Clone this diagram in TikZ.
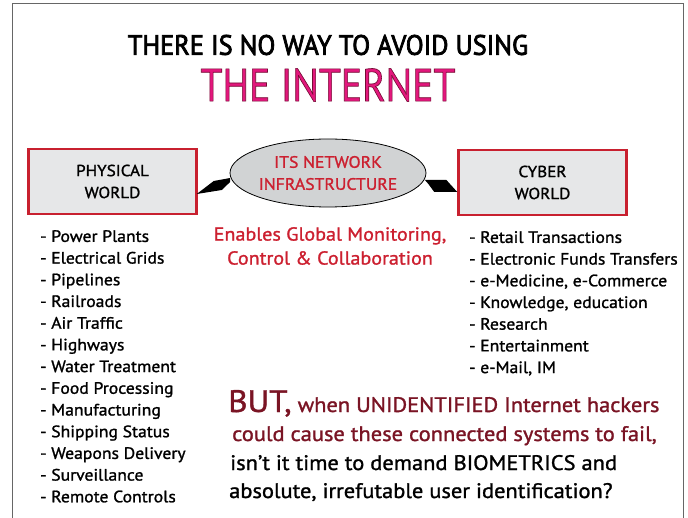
\documentclass[tikz,border=0pt]{standalone}
\usepackage{fontspec}
\setmainfont{PT Sans}[FakeBold=1.3, FakeStretch=1.07]
\newfontfamily\titlefont{PT Sans}[FakeBold=2.8]
\newfontfamily\bigfont{PT Sans}[FakeBold=1.5]
\usetikzlibrary{calc,shapes.geometric}
\definecolor{boxred}{HTML}{C8202F}
\definecolor{boxgray}{HTML}{E6E7E8}
\definecolor{ellgray}{HTML}{D1D3D4}
\definecolor{magent}{HTML}{E3177D}
\definecolor{maroon}{HTML}{7A1424}
\definecolor{txtred}{HTML}{CC2030}
\tikzset{
  worldbox/.style={draw=boxred, line width=2.5pt, fill=boxgray, minimum width=168pt, minimum height=65pt, align=center, font=\fontsize{16}{22}\selectfont},
  listtext/.style={anchor=north west, align=left, font=\fontsize{16.5}{21.7}\selectfont, inner sep=0pt},
  wedge/.style={fill=black}
}
\begin{document}
\begin{tikzpicture}[x=1pt,y=-1pt]
\useasboundingbox (0,0) rectangle (688,518);
\draw[gray!80!black, line width=1pt] (12,525) -- (12,4) -- (683,4) -- (683,525);
\node (t1) at (328,45) {\titlefont\fontsize{28}{32}\selectfont\scalebox{0.94}[1]{THERE IS NO WAY TO AVOID USING}};
\node[text=magent] (t2) at (328,85) {\bigfont\fontsize{46}{52}\selectfont\special{pdf:literal direct 2 Tr 0.6 w 0.45 0.05 0.2 RG}\scalebox{0.86}[1]{THE INTERNET}\special{pdf:literal direct 0 Tr}};
\node[worldbox] (phys) at (112.5,181.5) {PHYSICAL\\WORLD};
\node[worldbox] (cyber) at (542.5,182.5) {CYBER\\WORLD};
\node[ellipse, draw=black, line width=0.8pt, fill=ellgray, minimum width=180pt, minimum height=68pt, text=txtred, align=center, font=\fontsize{16.5}{22}\selectfont, inner sep=0pt] (net) at (328,173) {ITS NETWORK\\INFRASTRUCTURE};
\fill[wedge] ($(phys.east)+(-1,12.5)$) -- ($(phys.east)+(16,-0.5)$) -- ($(net.west)+(0.5,5)$) -- ($(net.west)+(0.5,9)$) -- ($(phys.east)+(24,8.5)$) -- cycle;
\fill[wedge] ($(net.east)+(-1.5,7)$) -- ($(net.east)+(20,7)$) -- ($(cyber.west)+(0,9.5)$) -- ($(cyber.west)+(-23,9.5)$) -- ($(net.east)+(2,11)$) -- cycle;
\node[text=txtred, align=center, font=\fontsize{18.8}{24}\selectfont] (en) at (330,246) {Enables Global Monitoring,\\Control \& Collaboration};
\node[listtext] (plist) at (40,230) {- Power Plants\\- Electrical Grids\\- Pipelines\\- Railroads\\- Air Traffic\\- Highways\\- Water Treatment\\- Food Processing\\- Manufacturing\\- Shipping Status\\- Weapons Delivery\\- Surveillance\\- Remote Controls};
\node[listtext] (clist) at (469,231) {- Retail Transactions\\- Electronic Funds Transfers\\- e-Medicine, e-Commerce\\- Knowledge, education\\- Research\\- Entertainment\\- e-Mail, IM};
\node[anchor=base west, inner sep=0pt, text=maroon] (b1) at (228,412) {{\fontsize{31}{34}\selectfont BUT,}{\fontsize{21}{24}\selectfont\ when UNIDENTIFIED Internet hackers}};
\node[anchor=base west, inner sep=0pt, text=maroon, font=\fontsize{21}{24}\selectfont] (b2) at (232,441) {could cause these connected systems to fail,};
\node[anchor=base west, inner sep=0pt, font=\fontsize{21}{24}\selectfont] (b3) at (230,470) {isn’t it time to demand BIOMETRICS and};
\node[anchor=base west, inner sep=0pt, font=\fontsize{21}{24}\selectfont] (b4) at (229,498) {absolute, irrefutable user identification?};
\end{tikzpicture}
\end{document}
